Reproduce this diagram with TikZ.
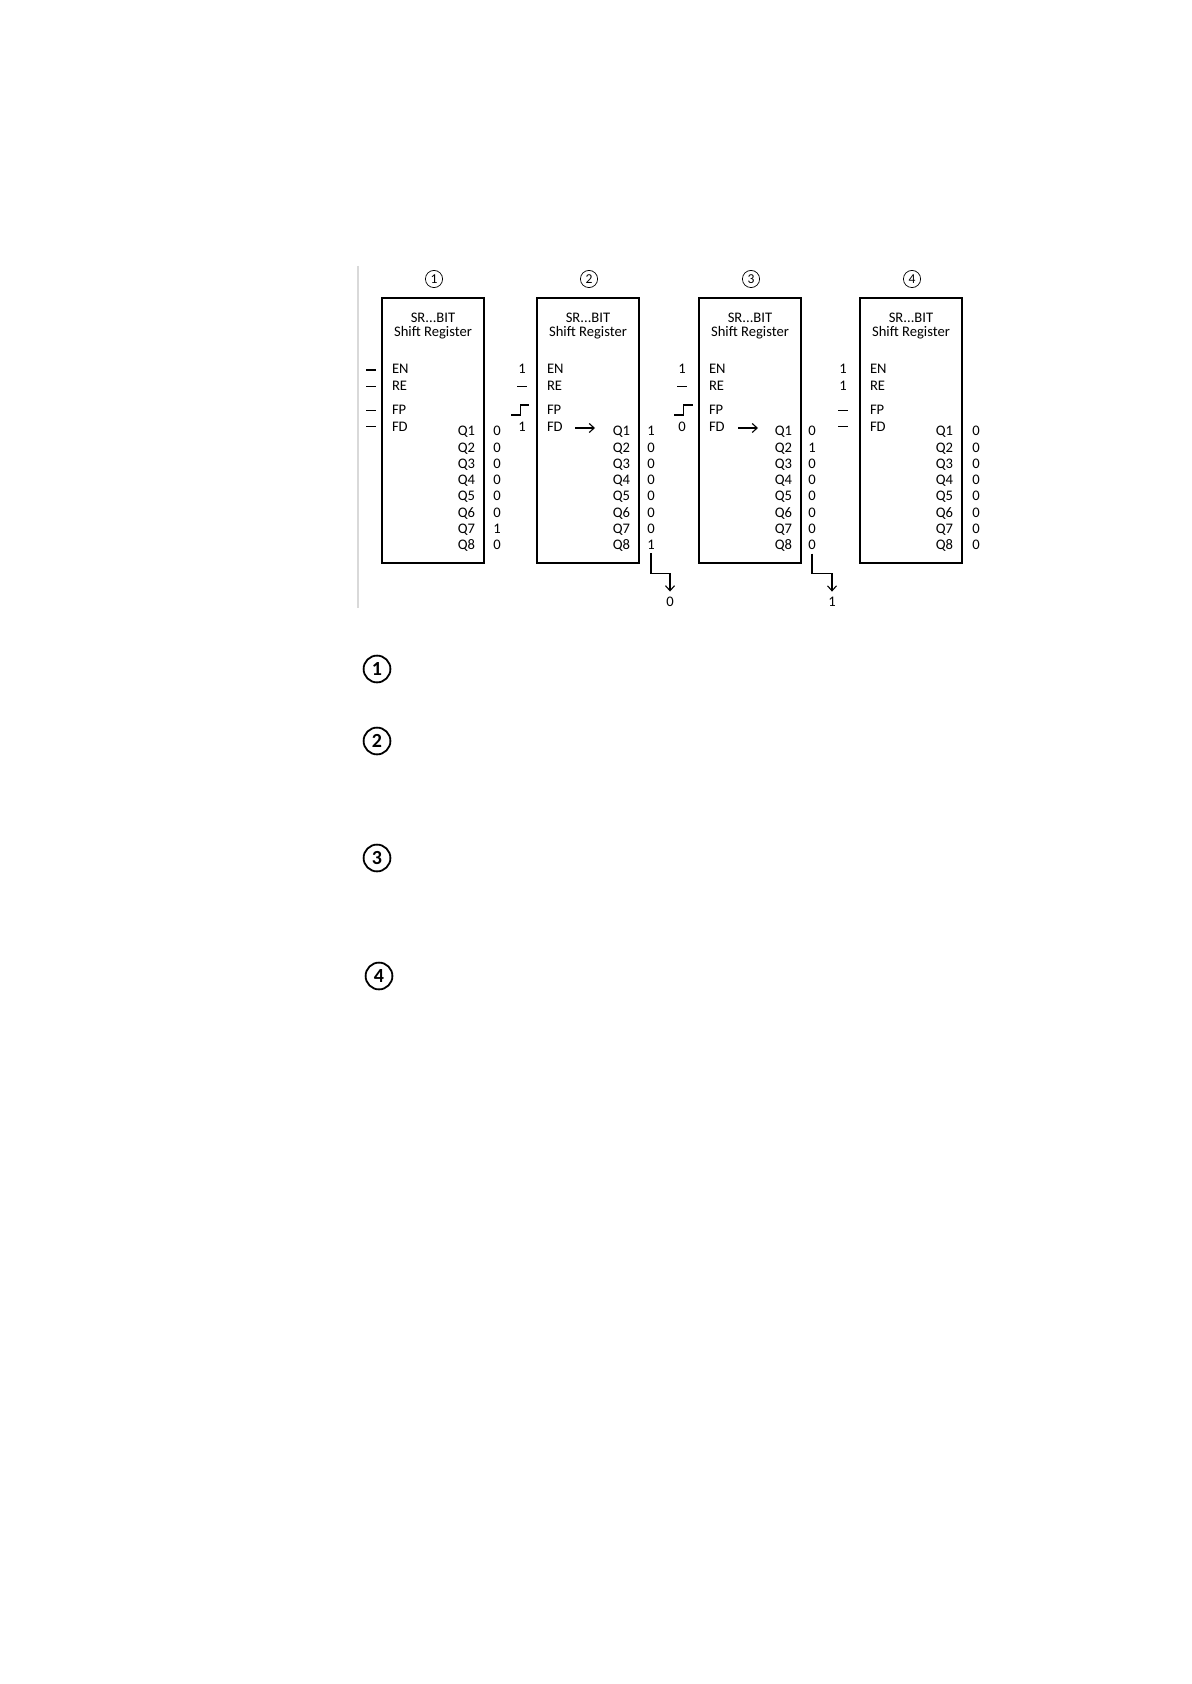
\documentclass[tikz,border=0pt]{standalone}
\usepackage{fontspec}
\setmainfont{Carlito}
\usetikzlibrary{arrows.meta}
\begin{document}
\begin{tikzpicture}[x=0.5pt,y=-0.5pt,
 lbl/.style={inner sep=0pt, outer sep=0pt, font=\fontsize{7.3}{8.5}\selectfont},
 regbox/.style={draw, line width=0.8pt, inner sep=0pt, outer sep=0pt, minimum width=51pt, minimum height=132.5pt, anchor=north west},
 dashmark/.style={line width=0.6pt},
 stepmark/.style={line width=0.55pt},
 conn/.style={line width=0.55pt, -{Straight Barb[length=2.5pt,width=4.5pt]}},
 topnum/.style={circle, draw, line width=0.35pt, inner sep=0pt, minimum size=8.6pt, font=\fontsize{6.8}{7}\selectfont},
 keynum/.style={circle, draw, line width=0.9pt, inner sep=0pt, minimum size=13.4pt, font=\bfseries\fontsize{10}{10}\selectfont}
]
\useasboundingbox (0,0) rectangle (1191,1684);

% light vertical rule
\draw[gray!30, line width=1pt] (358,266) -- (358,608);

% registers
\foreach \i/\x in {1/382,2/537,3/699,4/860}{
  \node[regbox] (b\i) at (\x,298) {};
  \node[topnum] (n\i) at (\x+52,279) {\i};
  \node[lbl, anchor=base] (b\i-ta) at (\x+51,322.5) {SR...BIT};
  \node[lbl, anchor=base] (b\i-tb) at (\x+51,337) {Shift Register};
  \foreach \s/\y in {EN/374, RE/391, FP/415, FD/431}
    \node[lbl, anchor=base west] (b\i-\s) at (\x+10,\y) {\s};
  \foreach \k in {1,...,8}
    \node[lbl, anchor=base east] (b\i-q\k) at (\x+93,{436+16.2*(\k-1)}) {Q\k};
}

% output values
\foreach \v [count=\k] in {0,0,0,0,0,0,1,0}
  \node[lbl, anchor=base] (v1-\k) at (497,{436+16.2*(\k-1)}) {\v};
\foreach \v [count=\k] in {1,0,0,0,0,0,0,1}
  \node[lbl, anchor=base] (v2-\k) at (651,{436+16.2*(\k-1)}) {\v};
\foreach \v [count=\k] in {0,1,0,0,0,0,0,0}
  \node[lbl, anchor=base] (v3-\k) at (812,{436+16.2*(\k-1)}) {\v};
\foreach \v [count=\k] in {0,0,0,0,0,0,0,0}
  \node[lbl, anchor=base] (v4-\k) at (976,{436+16.2*(\k-1)}) {\v};

% inputs, register 1
\foreach \y in {370,386.5,410.5,426.5}
  \draw[dashmark] (366,\y) -- (376,\y);

% inputs, register 2
\node[lbl, anchor=base] (i2-en) at (522,374) {1};
\draw[dashmark] (517,386.5) -- (527,386.5);
\draw[stepmark] (511,415) -- (520.7,415) -- (520.7,405) -- (529.3,405);
\node[lbl, anchor=base] (i2-fd) at (522,431) {1};

% inputs, register 3
\node[lbl, anchor=base] (i3-en) at (682,374) {1};
\draw[dashmark] (677,386.5) -- (687,386.5);
\draw[stepmark] (674.3,415) -- (683.5,415) -- (683.5,405) -- (692.7,405);
\node[lbl, anchor=base] (i3-fd) at (682,431) {0};

% inputs, register 4
\node[lbl, anchor=base] (i4-en) at (843,374) {1};
\node[lbl, anchor=base] (i4-re) at (843,391) {1};
\draw[dashmark] (838,410.5) -- (848,410.5);
\draw[dashmark] (838,426.5) -- (848,426.5);

% shift arrows inside registers
\coordinate (a2s) at (575,428);
\coordinate (a2e) at (595,428);
\draw[conn] (a2s) -- (a2e);
\coordinate (a3s) at (738,428);
\coordinate (a3e) at (758,428);
\draw[conn] (a3s) -- (a3e);

% shifted-out bits
\node[lbl, anchor=base] (o2) at (670,606) {0};
\node[lbl, anchor=base] (o3) at (832,606) {1};
\draw[conn, shorten >=2.5pt] ([yshift=-2pt]v2-8.south) -- ++(0,20) -| (o2.north);
\draw[conn, shorten >=2.5pt] ([yshift=-2pt]v3-8.south) -- ++(0,20) -| (o3.north);

% key markers
\node[keynum] (k1) at (377,669) {1};
\node[keynum] (k2) at (377,741) {2};
\node[keynum] (k3) at (377,858) {3};
\node[keynum] (k4) at (379,976) {4};
\end{tikzpicture}
\end{document}
